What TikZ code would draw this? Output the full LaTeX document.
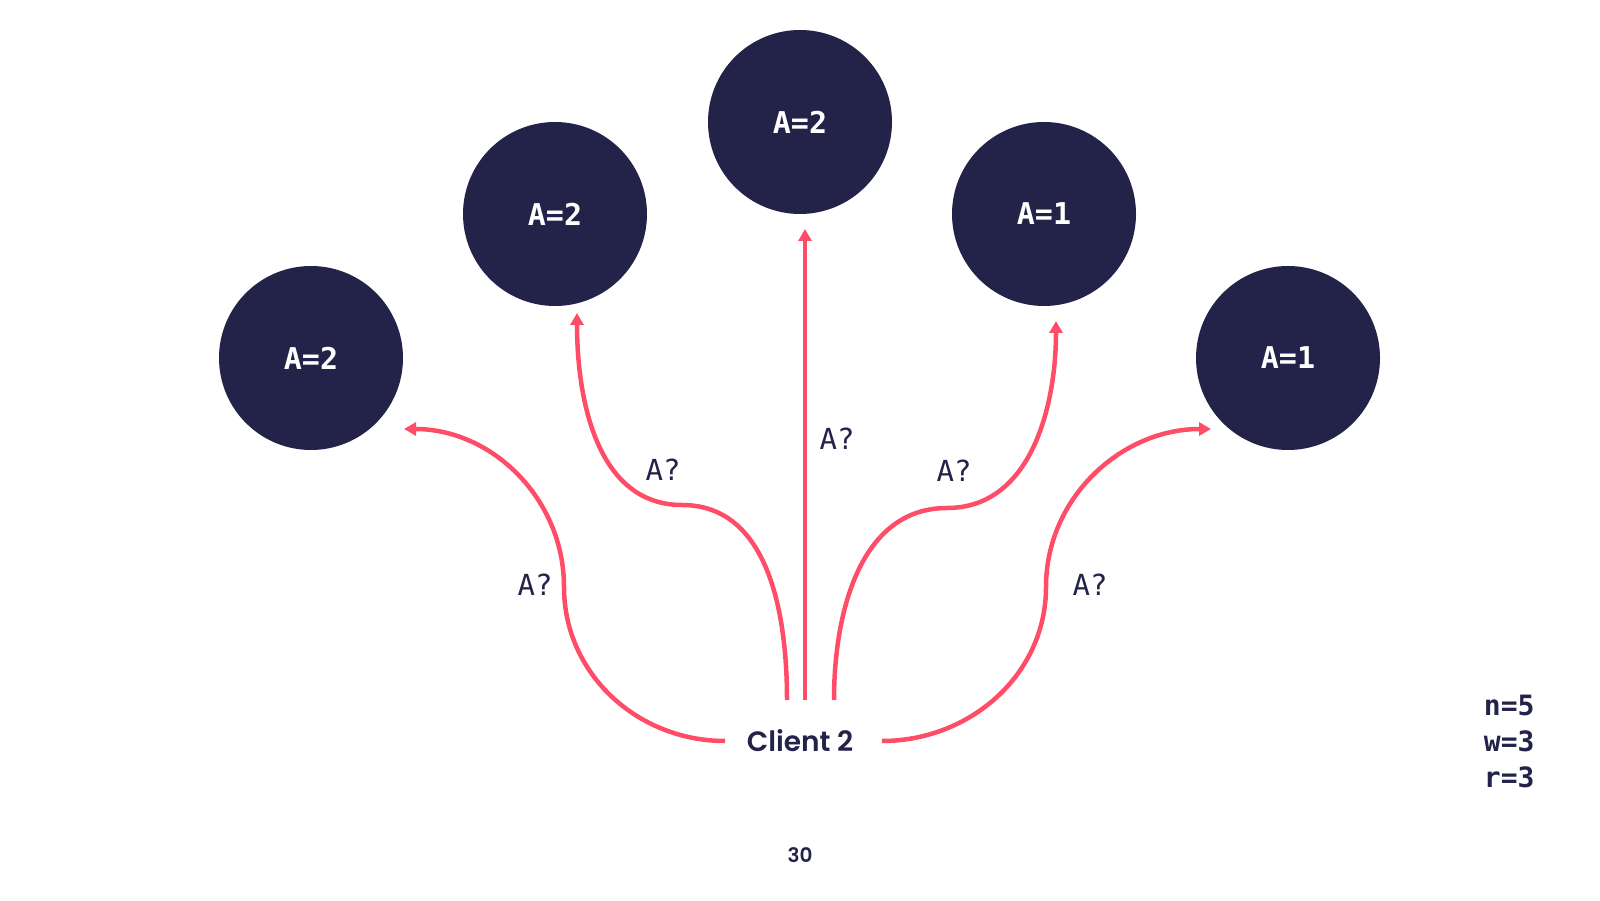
\documentclass[tikz,border=0pt]{standalone}
\usepackage{fontspec}
\setmainfont{Poppins}
\newfontfamily\clientfont{Poppins SemiBold}
\newfontfamily\codefont{DejaVu Sans Mono}
\usetikzlibrary{arrows.meta}
\definecolor{navy}{HTML}{23234A}
\definecolor{pinkred}{HTML}{FF4D68}

\begin{document}
\begin{tikzpicture}[x=1pt,y=1pt,
  server/.style={circle,fill=navy,minimum size=184pt,inner sep=0pt,text=white,font=\codefont\bfseries\fontsize{30}{30}\selectfont},
  ask/.style={draw=pinkred,line width=4.5pt,-{Triangle[length=12pt,width=13pt]}},
  qlabel/.style={text=navy,font=\codefont\fontsize{29}{29}\selectfont}]
\useasboundingbox (0,0) rectangle (1600,900);
% replicas
\node[server] (s1) at (311,542) {A=2};
\node[server] (s2) at (555,686) {A=2};
\node[server] (s3) at (800,778) {A=2};
\node[server] (s4) at (1044,686) {A=1};
\node[server] (s5) at (1288,542) {A=1};
% client
\node[text=navy,font=\clientfont\fontsize{28}{28}\selectfont] (client) at (800,159) {Client 2};
\coordinate (o1) at (725,159); \coordinate (o2) at (787,200); \coordinate (o3) at (805,200);
\coordinate (o4) at (834,200); \coordinate (o5) at (882,159);
\coordinate (m1) at (564,313); \coordinate (m2) at (682,395);
\coordinate (m4) at (947,392); \coordinate (m5) at (1046,313);
\coordinate (t1) at (404,471); \coordinate (t2) at (577,587); \coordinate (t3) at (805,671);
\coordinate (t4) at (1056,579); \coordinate (t5) at (1211,471);
% read requests
\draw[ask] (o1) to[out=180,in=-90] (m1) to[out=90,in=0] (t1);
\draw[ask] (o2) to[out=90,in=0] (m2) to[out=180,in=-90] (t2);
\draw[ask] (o3) -- (t3);
\draw[ask] (o4) to[out=90,in=180] (m4) to[out=0,in=-90] (t4);
\draw[ask] (o5) to[out=0,in=-90] (m5) to[out=90,in=180] (t5);
\node[qlabel] (q1) at (535,315) {A?};
\node[qlabel] (q2) at (663,430) {A?};
\node[qlabel] (q3) at (837,461) {A?};
\node[qlabel] (q4) at (954,429) {A?};
\node[qlabel] (q5) at (1090,315) {A?};
% parameters
\node[text=navy,font=\codefont\bfseries\fontsize{28}{36}\selectfont,align=right,anchor=east] (params) at (1538,159) {n=5\\w=3\\r=3};
\node[text=navy,font=\clientfont\fontsize{20}{20}\selectfont] (page) at (800,45) {30};
\end{tikzpicture}
\end{document}
